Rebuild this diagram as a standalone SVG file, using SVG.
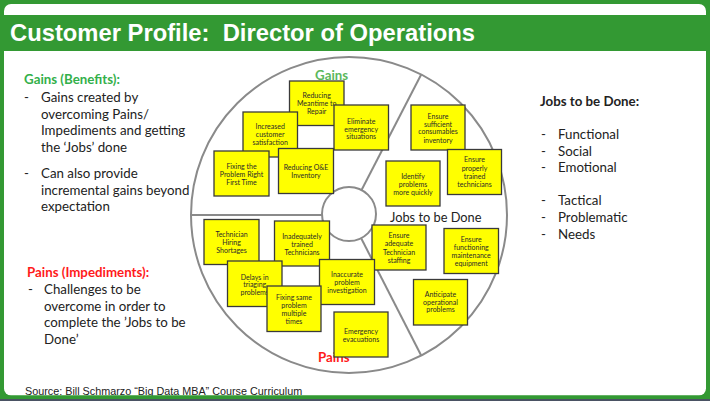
<svg xmlns="http://www.w3.org/2000/svg" width="710" height="401" viewBox="0 0 710 401">
<style>
.cal{font-family:Lato,"Open Sans","Noto Sans",sans-serif}
.body{font-size:13.3px;fill:#222}
.bold{font-weight:bold}
.box rect{fill:#ffff00;stroke:#3a3a3a;stroke-width:1.3}
.box text{font-family:Lato,"Open Sans","Noto Sans",sans-serif;font-size:7px;fill:#2a2a2a;text-anchor:middle}
.wheel{fill:none;stroke:#8a8a8a;stroke-width:2}
</style>
<rect x="0" y="0" width="710" height="401" fill="#339933"/>
<rect x="4" y="4" width="702" height="391.5" rx="7" fill="#ffffff"/>
<rect x="0" y="15" width="710" height="36" fill="#339933"/>
<text x="10" y="41" font-family="Liberation Sans,Arial,sans-serif" font-weight="bold" font-size="24" fill="#ffffff" style="white-space:pre" textLength="465" lengthAdjust="spacingAndGlyphs">Customer Profile:  Director of Operations</text>

<g id="left-text" class="cal body">
<text x="24" y="84" class="bold" style="fill:#33b04a">Gains (Benefits):</text>
<text x="24" y="102">-</text>
<text x="41" y="102">Gains created by</text>
<text x="41" y="118.5">overcoming Pains/</text>
<text x="41" y="135">Impediments and getting</text>
<text x="41" y="151.5">the ‘Jobs’ done</text>
<text x="24" y="178">-</text>
<text x="41" y="178">Can also provide</text>
<text x="41" y="194.5">incremental gains beyond</text>
<text x="41" y="211">expectation</text>
<text x="27" y="277" class="bold" style="fill:#ff1a1a">Pains (Impediments):</text>
<text x="28" y="294">-</text>
<text x="44" y="294">Challenges to be</text>
<text x="44" y="310.5">overcome in order to</text>
<text x="44" y="327">complete the ’Jobs to be</text>
<text x="44" y="343.5">Done’</text>
</g>

<g id="right-text" class="cal body">
<text x="540" y="106" class="bold">Jobs to be Done:</text>
<text x="541" y="138.5">-</text><text x="558" y="138.5">Functional</text>
<text x="541" y="156">-</text><text x="558" y="156">Social</text>
<text x="541" y="172">-</text><text x="558" y="172">Emotional</text>
<text x="541" y="205">-</text><text x="558" y="205">Tactical</text>
<text x="541" y="222">-</text><text x="558" y="222">Problematic</text>
<text x="541" y="238.5">-</text><text x="558" y="238.5">Needs</text>
</g>

<g id="wheel">
<circle class="wheel" cx="349" cy="215" r="158"/>
<circle class="wheel" cx="349" cy="214" r="27"/>
</g>
<g id="connectors" class="wheel">
<line x1="191" y1="215" x2="322" y2="215"/>
<line x1="361.3" y1="190.5" x2="421.2" y2="74.5"/>
<line x1="361.3" y1="238.5" x2="421.2" y2="355.5"/>
</g>

<g id="section-labels" class="cal">
<text x="315" y="79.5" font-size="13.3" font-weight="bold" fill="#5cb85c">Gains</text>
<text x="390" y="221.5" font-size="12.8" fill="#222">Jobs to be Done</text>
<text x="318" y="362" font-size="13.3" font-weight="bold" fill="#ff1a1a">Pains</text>
</g>

<g id="gain-meantime" class="box"><rect x="289.5" y="81" width="54.5" height="44.5"/><text x="316.7" y="97.5">Reducing</text><text x="316.7" y="105.7">Meantime to</text><text x="316.7" y="114">Repair</text></g>
<g id="gain-satisfaction" class="box"><rect x="243" y="112" width="54.5" height="45"/><text x="270.2" y="129">Increased</text><text x="270.2" y="137.3">customer</text><text x="270.2" y="145.3">satisfaction</text></g>
<g id="gain-eliminate" class="box"><rect x="334" y="105" width="54.5" height="45"/><text x="361.2" y="124">Eliminate</text><text x="361.2" y="131.5">emergency</text><text x="361.2" y="139">situations</text></g>
<g id="gain-fixing-first" class="box"><rect x="214" y="151" width="55" height="45"/><text x="241.5" y="169">Fixing the</text><text x="241.5" y="176.8">Problem Right</text><text x="241.5" y="184.7">First Time</text></g>
<g id="gain-oe" class="box"><rect x="278.5" y="148.5" width="55" height="45"/><text x="306" y="170">Reducing O&amp;E</text><text x="306" y="178.3">Inventory</text></g>

<g id="job-consumables" class="box"><rect x="411" y="105" width="54" height="45"/><text x="438" y="119">Ensure</text><text x="438" y="126.7">sufficient</text><text x="438" y="134.4">consumables</text><text x="438" y="143">inventory</text></g>
<g id="job-trained" class="box"><rect x="447.5" y="149.5" width="54" height="45"/><text x="474.5" y="162.4">Ensure</text><text x="474.5" y="170.7">properly</text><text x="474.5" y="179">trained</text><text x="474.5" y="187.4">technicians</text></g>
<g id="job-identify" class="box"><rect x="386" y="161" width="54" height="45"/><text x="413" y="179">Identify</text><text x="413" y="186.7">problems</text><text x="413" y="194.7">more quickly</text></g>
<g id="job-staffing" class="box"><rect x="372" y="225" width="54" height="45"/><text x="399" y="238.4">Ensure</text><text x="399" y="246.4">adequate</text><text x="399" y="254.7">Technician</text><text x="399" y="263.4">staffing</text></g>
<g id="job-equipment" class="box"><rect x="444" y="228.5" width="54.5" height="45"/><text x="471.2" y="241.7">Ensure</text><text x="471.2" y="249.7">functioning</text><text x="471.2" y="258">maintenance</text><text x="471.2" y="266.4">equipment</text></g>
<g id="job-anticipate" class="box"><rect x="413.5" y="279.5" width="54" height="45.5"/><text x="440.5" y="297.4">Anticipate</text><text x="440.5" y="305">operational</text><text x="440.5" y="312.4">problems</text></g>

<g id="pain-hiring" class="box"><rect x="204" y="219.5" width="55" height="45"/><text x="231.5" y="237.4">Technician</text><text x="231.5" y="245.4">Hiring</text><text x="231.5" y="253.4">Shortages</text></g>
<g id="pain-inadequate" class="box"><rect x="274.5" y="221" width="55" height="45"/><text x="302" y="239">Inadequately</text><text x="302" y="246.7">trained</text><text x="302" y="254.7">Technicians</text></g>
<g id="pain-delays" class="box"><rect x="227.5" y="261" width="54.5" height="45.5"/><text x="254.7" y="279.7">Delays in</text><text x="254.7" y="287.4">triaging</text><text x="254.7" y="295.1">problems</text></g>
<g id="pain-inaccurate" class="box"><rect x="319.5" y="259.5" width="55" height="45"/><text x="347" y="277.4">Inaccurate</text><text x="347" y="285.4">problem</text><text x="347" y="293.1">investigation</text></g>
<g id="pain-fixing-same" class="box"><rect x="267" y="286" width="54" height="45.5"/><text x="294" y="300">Fixing same</text><text x="294" y="307.7">problem</text><text x="294" y="315.7">multiple</text><text x="294" y="324">times</text></g>
<g id="pain-evacuations" class="box"><rect x="334" y="312" width="54" height="45"/><text x="361" y="334">Emergency</text><text x="361" y="341.7">evacuations</text></g>

<text x="25" y="395" font-family="Liberation Sans,Arial,sans-serif" font-size="10.8" fill="#222">Source: Bill Schmarzo “Big Data MBA” Course Curriculum</text>
<rect x="0" y="395.5" width="710" height="3.5" fill="#339933"/>
<rect x="0" y="399" width="710" height="2" fill="#4a5263"/>
</svg>
